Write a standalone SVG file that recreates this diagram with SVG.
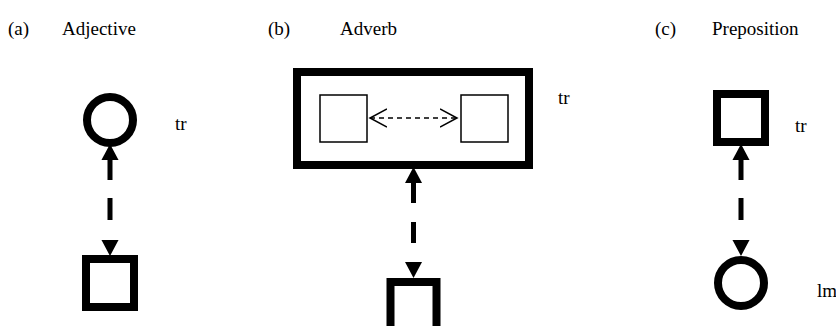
<svg xmlns="http://www.w3.org/2000/svg" width="836" height="326" viewBox="0 0 836 326">
<style>
text{font-family:"Liberation Serif","Times New Roman",serif;font-size:19px;fill:#000}
.thick{fill:#fff;stroke:#000;stroke-width:8}
.thin{fill:#fff;stroke:#000;stroke-width:1.5}
.conn{fill:none;stroke:#000;stroke-width:5}
.small{fill:none;stroke:#000;stroke-width:1.5;stroke-dasharray:5 4}
</style>
<defs>
<marker id="tri" markerUnits="userSpaceOnUse" markerWidth="16" markerHeight="18" refX="0" refY="8" orient="auto-start-reverse" viewBox="0 0 15 16">
<path d="M0,0 L15,8 L0,16 z" fill="#000"/>
</marker>
<marker id="chev" markerUnits="userSpaceOnUse" markerWidth="20" markerHeight="22" refX="17" refY="10" orient="auto-start-reverse" viewBox="0 0 20 20">
<path d="M0,1 L17,10 L0,19" fill="none" stroke="#000" stroke-width="1.5"/>
</marker>
</defs>
<g id="labels">
<text x="8" y="35">(a)</text>
<text x="62" y="35">Adjective</text>
<text x="268" y="35">(b)</text>
<text x="340" y="35">Adverb</text>
<text x="655" y="35">(c)</text>
<text x="712" y="35">Preposition</text>
</g>
<g id="a-tr"><circle class="thick" cx="110" cy="120" r="23"/><text x="175" y="130">tr</text></g>
<g id="a-lm"><rect class="thick" x="86" y="259" width="48" height="48"/></g>
<g id="b-tr">
<rect class="thick" x="297" y="72" width="232" height="93"/>
<rect class="thin" x="320" y="95" width="47" height="47"/>
<rect class="thin" x="461" y="95" width="47" height="47"/>
<text x="558" y="104">tr</text>
</g>
<g id="b-lm"><rect class="thick" x="390.5" y="282" width="46" height="50"/></g>
<g id="c-tr"><rect class="thick" x="717" y="94" width="48" height="48"/><text x="795" y="132">tr</text></g>
<g id="c-lm"><circle class="thick" cx="741" cy="283" r="23"/><text x="817" y="297">lm</text></g>
<g id="connectors">
<path class="conn" d="M110,160 V240" stroke-dasharray="20 18 22 20" marker-start="url(#tri)" marker-end="url(#tri)"/>
<path class="conn" d="M413.5,183 V262" stroke-dasharray="20 19 21 19" marker-start="url(#tri)" marker-end="url(#tri)"/>
<path class="conn" d="M741,160 V240" stroke-dasharray="20 18 22 20" marker-start="url(#tri)" marker-end="url(#tri)"/>
<path class="small" d="M370,118 H457" marker-start="url(#chev)" marker-end="url(#chev)"/>
</g>
</svg>
